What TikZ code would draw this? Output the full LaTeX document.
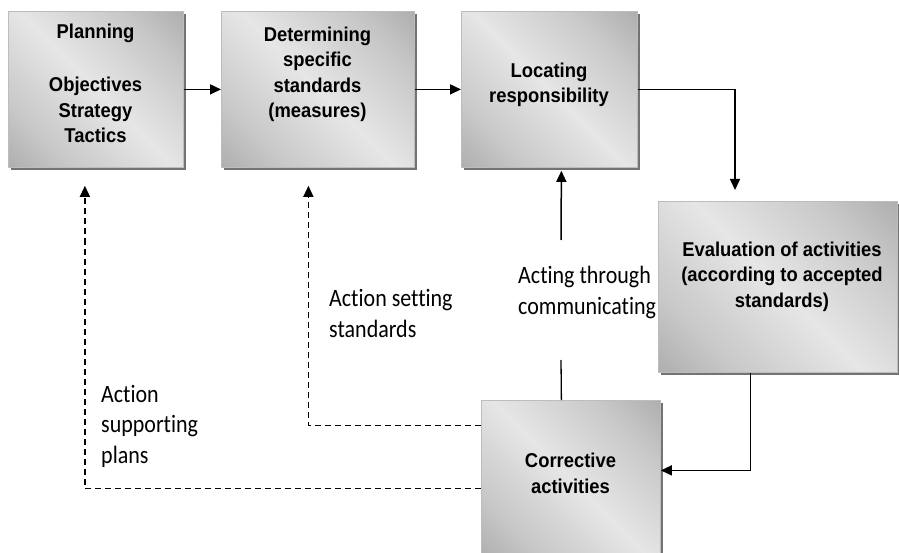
\documentclass[tikz,border=0pt]{standalone}
\usepackage{fontspec}
\usetikzlibrary{arrows.meta,shadows}
\newfontfamily\boxfont[FakeStretch=0.92]{Liberation Sans}
\newfontfamily\lblfont[FakeStretch=0.88,Ligatures=NoCommon]{Carlito}
\definecolor{boxdark}{HTML}{A2A2A2}
\definecolor{boxmid}{HTML}{C8C8C8}
\definecolor{boxlight}{HTML}{E6E6E6}
\definecolor{boxline}{HTML}{BDBDBD}
\pgfdeclarehorizontalshading{diagshade}{100bp}{color(0bp)=(boxdark); color(8bp)=(boxdark); color(28bp)=(boxmid); color(50bp)=(boxlight); color(72bp)=(boxmid); color(92bp)=(boxdark); color(100bp)=(boxdark)}
\tikzset{
  box/.style={draw=boxline, line width=0.8pt, anchor=north west, inner sep=0pt,
    shading=diagshade, shading angle=45,
    general shadow={fill=black!55, shadow xshift=3pt, shadow yshift=-3pt}},
  boxtext/.style={font=\boxfont\bfseries\fontsize{20}{25.5}\selectfont, align=center, anchor=base, inner sep=0pt},
  lbl/.style={font=\lblfont\fontsize{25}{30.5}\selectfont, align=left, anchor=base west, inner sep=0pt},
  arr/.style={line width=1.5pt, -{Triangle[length=11pt,width=10pt]}},
  dash line/.style={line width=1.3pt, dash pattern=on 6pt off 4pt, -{Triangle[length=11pt,width=10pt]}}
}
\begin{document}
\begin{tikzpicture}[x=1pt,y=-1pt]
\useasboundingbox (0,0) rectangle (899,553);
\clip (0,0) rectangle (899,553);
\fill[white] (0,0) rectangle (899,553);
% boxes
\node[box, minimum width=175pt, minimum height=156pt] (p) at (8,11) {};
\node[box, minimum width=193pt, minimum height=156pt] (d) at (221,11) {};
\node[box, minimum width=176pt, minimum height=156pt] (l) at (461,11) {};
\node[box, minimum width=239pt, minimum height=171pt] (e) at (658,201) {};
\node[box, minimum width=179pt, minimum height=158pt] (c) at (481,400) {};
% box texts (anchored at the baseline of the last line)
\node[boxtext] (pt) at (95.5,143) {Planning\\[27.5pt]Objectives\\Strategy\\Tactics};
\node[boxtext] (dt) at (317.5,118) {Determining\\specific\\standards\\(measures)};
\node[boxtext] (lt) at (549,103) {Locating\\responsibility};
\node[boxtext] (et) at (782,307) {Evaluation of activities\\(according to accepted\\standards)};
\node[boxtext] (ct) at (570.5,493) {Corrective\\activities};
% labels
\node[lbl] (l1) at (329,337) {Action setting\\standards};
\node[lbl] (l2) at (518,314) {Acting through\\communicating};
\node[lbl] (l3) at (101,463) {Action\\supporting\\plans};
% free ends
\coordinate (e1) at (735,190);
\coordinate (a1) at (561,360);
\coordinate (a2) at (561,240);
% solid connectors
\draw[arr] (p.east) -- (d.west);
\draw[arr] (d.east) -- (l.west);
\draw[arr] (l.east) -| (e1);
\draw[arr] ([xshift=-27.5pt]e.south) |- ([yshift=9pt]c.east);
\draw[line width=1.3pt] ([xshift=-9.5pt]c.north) -- (a1);
\draw[arr] (a2) -- ([xshift=12pt,yshift=-3pt]l.south);
% dashed connectors
\draw[dash line] ([yshift=54pt]c.west) -| ([xshift=-9.5pt,yshift=-18pt]d.south);
\draw[dash line] ([yshift=-9pt]c.west) -| ([xshift=-11pt,yshift=-18pt]p.south);
\end{tikzpicture}
\end{document}
